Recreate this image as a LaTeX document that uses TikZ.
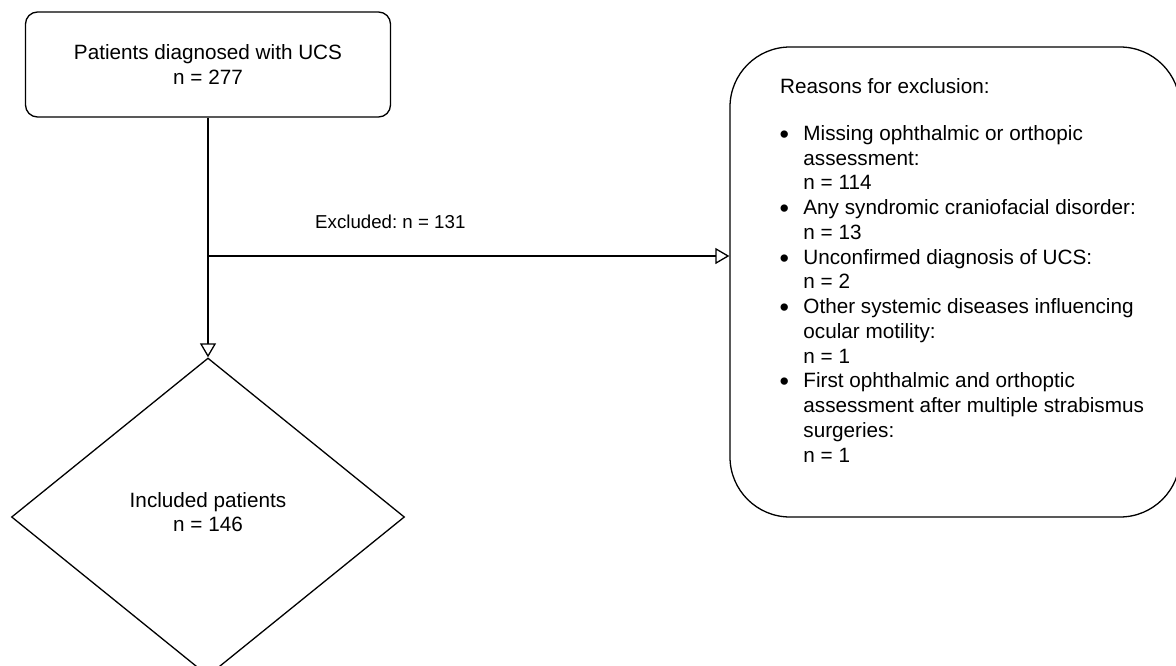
\documentclass[tikz,border=0pt]{standalone}
\usepackage{fontspec}
\setmainfont{Liberation Sans}
\usetikzlibrary{arrows.meta,shapes.geometric}
\frenchspacing
\newcommand{\bul}{\raisebox{-3pt}{\scalebox{1.3}{\textbullet}}}
\begin{document}
\begin{tikzpicture}[x=1pt,y=-1pt,
  box/.style={draw, line width=1.3pt, inner sep=0pt},
  txt/.style={font=\fontsize{20.7}{24.77}\selectfont, inner sep=0pt},
  smalltxt/.style={font=\fontsize{18.7}{22}\selectfont, inner sep=0pt},
  conn/.style={draw, line width=1.3pt},
  arr/.style={conn, -{Triangle[open,length=14pt,width=16pt,line width=1.3pt]}}]
\clip (0,0) rectangle (1176,665);
\fill[white] (0,0) rectangle (1176,665);
\node[box, rounded corners=12pt, minimum width=365pt, minimum height=105pt, txt, align=center] (top) at (208,64.5) {Patients diagnosed with UCS\\n = 277};
\node[box, diamond, minimum width=393pt, minimum height=318pt] (inc) at (208,517) {};
\node[txt, align=center] (inct) at (208,512) {Included patients\\n = 146};
\node[box, rounded corners=60pt, minimum width=450pt, minimum height=470pt] (excl) at (955,282) {};
\coordinate (j) at (208,256);
\draw[arr] (top.south) -- (inc.north);
\draw[arr] (j) -- (j -| excl.west);
\node[smalltxt, anchor=base west] (exl) at (315,228) {Excluded: n = 131};
\node[txt, anchor=base west] (rh) at (780,93) {Reasons for exclusion:};
\node[txt, anchor=north west] (list) at (779.5,122.7) {%
\renewcommand{\arraystretch}{1}%
\begin{tabular}{@{}c@{\hspace{14.3pt}}l@{}}
\bul & Missing ophthalmic or orthopic\\
 & assessment:\\
 & n = 114\\
\bul & Any syndromic craniofacial disorder:\\
 & n = 13\\
\bul & Unconfirmed diagnosis of UCS:\\
 & n = 2\\
\bul & Other systemic diseases influencing\\
 & ocular motility:\\
 & n = 1\\
\bul & First ophthalmic and orthoptic\\
 & assessment after multiple strabismus\\
 & surgeries:\\
 & n = 1
\end{tabular}};
\end{tikzpicture}
\end{document}
